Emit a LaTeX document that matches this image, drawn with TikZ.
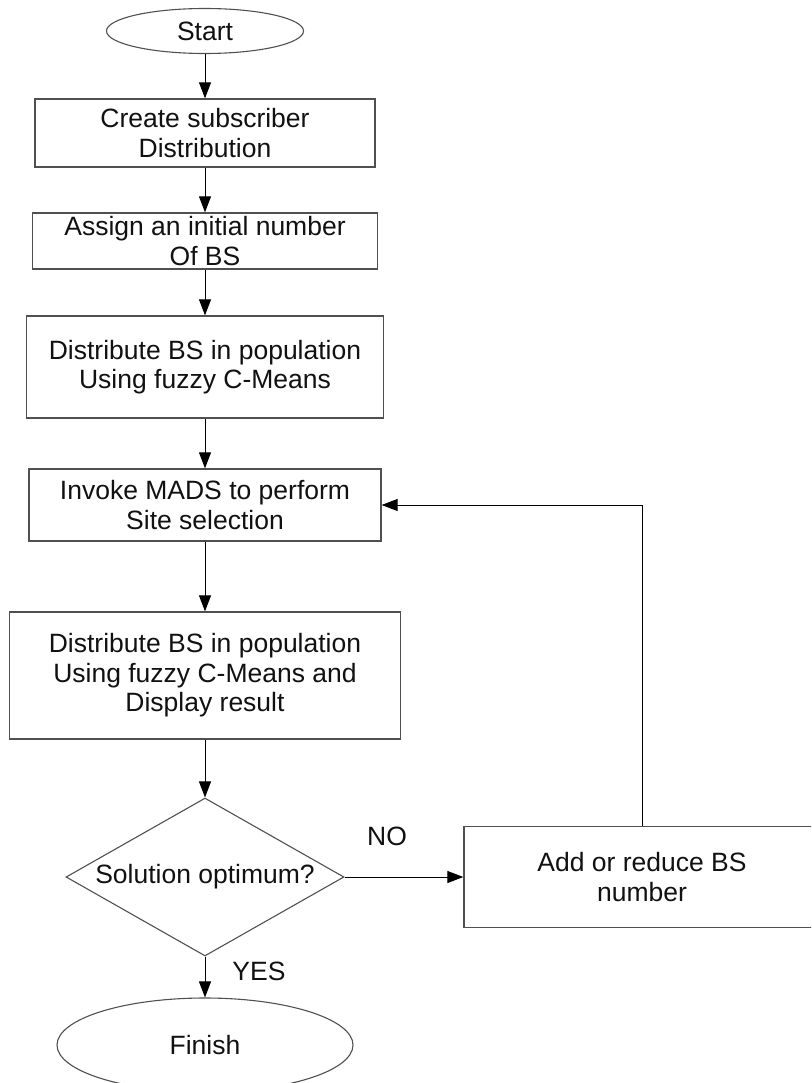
\documentclass[tikz,border=0pt]{standalone}
\usepackage{fontspec}
\setmainfont{Liberation Sans}
\usepackage{tikz}
\usetikzlibrary{positioning, arrows.meta, shapes.geometric}
\definecolor{cEdge}{HTML}{505050}
\definecolor{cInk} {HTML}{111111}

\begin{document}
\begin{tikzpicture}[x=1pt, y=-1pt,
    every node/.style={font=\fontsize{26.5}{29.5}\selectfont, text=cInk, align=center},
    procbox/.style={draw=cEdge, line width=1.3pt, rectangle, inner sep=0pt},
    termnode/.style={draw=cEdge, line width=1.1pt, ellipse, inner sep=0pt},
    decnode/.style={draw=cEdge, line width=1.1pt, diamond, aspect=1.76, inner sep=0pt},
    flowarrow/.style={draw=black, line width=1pt, -{Triangle[length=16pt, width=12pt]}},
  ]
  \useasboundingbox (0,0) rectangle (811,1083);
  \clip (0,0) rectangle (811,1083);

  % main column
  \node[termnode, minimum width=197pt, minimum height=45pt] (start) at (205,31) {Start};
  \node[procbox, minimum width=340pt, minimum height=68pt] (create) at (205,133)
    {Create subscriber\\Distribution};
  \node[procbox, minimum width=345pt, minimum height=56pt] (assign) at (205,241)
    {Assign an initial number\\Of BS};
  \node[procbox, minimum width=357pt, minimum height=102pt] (distrib) at (205,367)
    {Distribute BS in population\\Using fuzzy C-Means};
  \node[procbox, minimum width=352pt, minimum height=72pt] (invoke) at (205,505)
    {Invoke MADS to perform\\Site selection};
  \node[procbox, minimum width=391pt, minimum height=127pt] (display) at (205,675.5)
    {Distribute BS in population\\Using fuzzy C-Means and\\Display result};
  \node[decnode, minimum width=278pt, minimum height=158pt] (optimum) at (205,877)
    {Solution optimum?};
  \node[termnode, minimum width=296pt, minimum height=94pt] (finish) at (205,1045) {Finish};

  % loop back
  \node[procbox, minimum width=356pt, minimum height=101pt] (adjust) at (642,877)
    {Add or reduce BS\\number};

  \node (nolabel) at (387,836) {NO};
  \node (yeslabel) at (259,971) {YES};

  \draw[flowarrow] (start) -- (create);
  \draw[flowarrow] (create) -- (assign);
  \draw[flowarrow] (assign) -- (distrib);
  \draw[flowarrow] (distrib) -- (invoke);
  \draw[flowarrow] (invoke) -- (display);
  \draw[flowarrow] (display) -- (optimum);
  \draw[flowarrow] (optimum) -- (finish);
  \draw[flowarrow] (optimum) -- (adjust);
  \draw[flowarrow] (adjust.north) |- (invoke.east);
\end{tikzpicture}
\end{document}
